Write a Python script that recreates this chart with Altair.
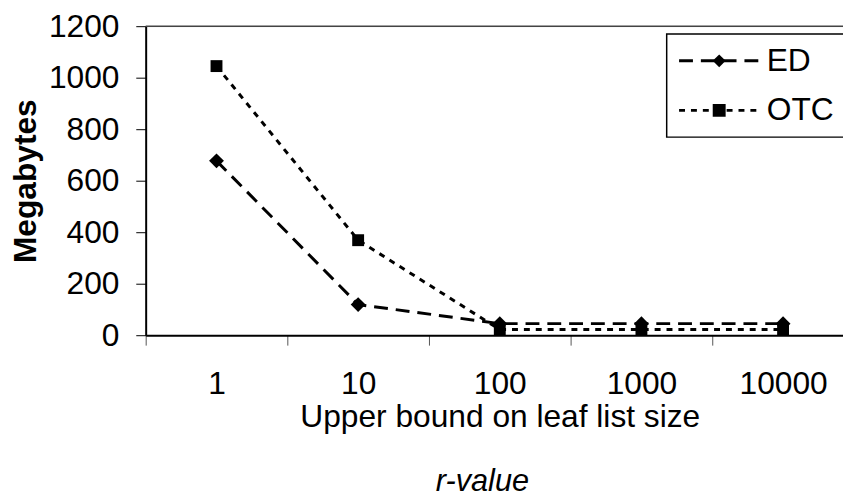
import altair as alt
import pandas as pd

categories = ["1", "10", "100", "1000", "10000"]
ed_values = [677, 119, 45, 45, 45]
otc_values = [1045, 369, 22, 22, 22]
series_names = ["ED", "OTC"]
y_ticks = [0, 200, 400, 600, 800, 1000, 1200]

rows = []
for s, vals in zip(series_names, [ed_values, otc_values]):
    for c, v in zip(categories, vals):
        rows.append({"r": c, "Megabytes": v, "series": s, "series_shape": s})
df = pd.DataFrame(rows)

FONT = "Liberation Sans"

x_enc = alt.X(
    "r:N",
    sort=categories,
    scale=alt.Scale(type="band", domain=categories, range=[0, 715], paddingInner=0, paddingOuter=0),
    axis=alt.Axis(
        title="Upper bound on leaf list size",
        tickBand="extent",
        labelAngle=0,
        labelFont=FONT,
        labelFontSize=32,
        labelColor="black",
        labelBaseline="alphabetic",
        labelPadding=49,
        tickSize=10,
        tickColor="#555",
        tickWidth=1,
        domainColor="black",
        domainWidth=2,
        grid=False,
        titleFont=FONT,
        titleFontSize=32,
        titleFontWeight="normal",
        titleColor="black",
        titleBaseline="alphabetic",
        titleY=92,
    ),
)

y_enc = alt.Y(
    "Megabytes:Q",
    scale=alt.Scale(domain=[0, 1200], nice=False, zero=True),
    axis=alt.Axis(
        values=y_ticks,
        format="d",
        title="Megabytes",
        labelFont=FONT,
        labelFontSize=32,
        labelColor="black",
        labelPadding=17,
        tickSize=10,
        tickColor="black",
        tickWidth=1,
        domainColor="black",
        domainWidth=2,
        grid=False,
        titleFont=FONT,
        titleFontSize=32,
        titleFontWeight="bold",
        titleColor="black",
        titleBaseline="alphabetic",
        titleX=-111,
        titleY=156,
    ),
)

base = alt.Chart(df)

top_rule = alt.Chart(pd.DataFrame({"v": [y_ticks[-1]]})).mark_rule(color="#444", strokeWidth=1.5).encode(
    y=alt.Y("v:Q", scale=alt.Scale(domain=[0, 1200]))
)

lines = base.mark_line(color="black", strokeWidth=3).encode(
    x=x_enc,
    y=y_enc,
    detail="series:N",
    strokeDash=alt.StrokeDash(
        "series:N",
        scale=alt.Scale(domain=series_names, range=[[14, 8], [6, 6]]),
        legend=alt.Legend(
            title=None,
            orient="none",
            legendX=526,
            legendY=8,
            padding=11,
            strokeColor="black",
            fillColor="white",
            symbolType="stroke",
            symbolSize=6724,
            symbolStrokeWidth=3,
            symbolStrokeColor="black",
            clipHeight=32,
            labelOffset=5,
            labelFont=FONT,
            labelFontSize=32,
            labelColor="black",
            labelLimit=0,
            rowPadding=18,
        ),
    ),
)

shape_enc = alt.Shape(
    "series_shape:N",
    scale=alt.Scale(range=["diamond", "square"]),
    legend=alt.Legend(
        title=None,
        orient="none",
        legendX=526,
        legendY=8,
        padding=11,
        symbolSize=170,
        symbolFillColor="black",
        symbolStrokeColor="black",
        symbolStrokeWidth=0,
        symbolOffset=26,
        clipHeight=32,
        labelFont=FONT,
        labelFontSize=32,
        labelExpr="''",
        rowPadding=18,
    ),
)

pts_ed = base.transform_filter(alt.datum.series == "ED").mark_point(
    filled=True, color="black", size=225, opacity=1
).encode(x=x_enc, y=y_enc, shape=shape_enc)

pts_otc = base.transform_filter(alt.datum.series == "OTC").mark_point(
    filled=True, color="black", size=144, opacity=1
).encode(x=x_enc, y=y_enc, shape=shape_enc)

chart = alt.layer(top_rule, lines, pts_otc, pts_ed).properties(
    width=704,
    height=312,
    padding={"left": 139, "top": 16, "right": 0, "bottom": 164},
    autosize=alt.AutoSizeParams(type="none"),
    title=alt.TitleParams(
        "r-value",
        orient="bottom",
        fontStyle="italic",
        fontWeight="normal",
        fontSize=31,
        font=FONT,
        color="black",
        anchor="middle",
        dx=-12,
        offset=35,
    ),
).configure_view(stroke=None).configure(background="white").configure_legend(strokeWidth=1.5)

chart.save("out.html", embed_options={"renderer": "svg", "actions": False})
